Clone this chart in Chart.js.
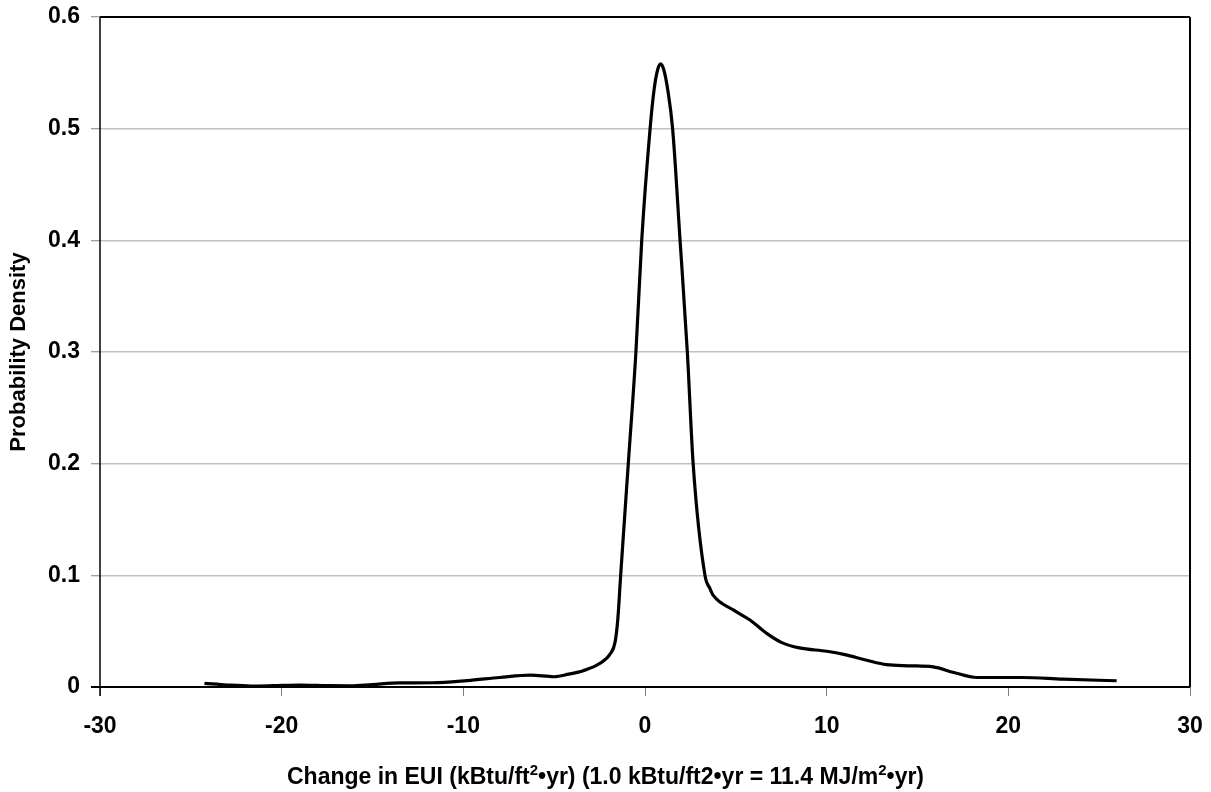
<!DOCTYPE html>
<html>
<head>
<meta charset="utf-8">
<script src="https://cdn.jsdelivr.net/npm/chart.js@4.4.0/dist/chart.umd.min.js"></script>
<style>
  html, body { margin: 0; padding: 0; background: #ffffff; }
  #wrap { width: 1211px; height: 792px; position: relative; }
</style>
</head>
<body>
<div id="wrap"><canvas id="c" width="1211" height="792"></canvas></div>
<script>
// ---- Data ----
const changeEUI = [-24.25, -23.0, -21.7, -20.5, -19.0, -17.5, -16.2, -15.0, -13.5, -11.7, -9.8, -8.0, -6.3, -5.0, -4.2, -3.4, -2.5, -1.9, -1.65, -1.5, -1.34, -0.92, -0.5, -0.18, 0.28, 0.50, 0.70, 0.86, 1.03, 1.25, 1.52, 1.93, 2.33, 2.65, 3.3, 3.58, 3.76, 4.86, 5.78, 6.7, 7.5, 8.5, 10.0, 11.0, 12.2, 13.3, 14.5, 15.86, 17.0, 18.26, 20.8, 23.0, 25.96];
const probDensity = [0.0033, 0.0018, 0.0009, 0.0012, 0.0018, 0.0012, 0.0010, 0.0022, 0.0037, 0.0038, 0.0057, 0.0085, 0.0106, 0.0092, 0.0115, 0.0146, 0.021, 0.030, 0.040, 0.060, 0.10, 0.20, 0.30, 0.40, 0.50, 0.535, 0.553, 0.558, 0.553, 0.535, 0.50, 0.40, 0.30, 0.20, 0.10, 0.088, 0.082, 0.069, 0.060, 0.048, 0.040, 0.035, 0.032, 0.029, 0.024, 0.020, 0.019, 0.018, 0.013, 0.0085, 0.0085, 0.007, 0.0056];
const xTickLabels = ['-30', '-20', '-10', '0', '10', '20', '30'];
const yTickLabels = ['0', '0.1', '0.2', '0.3', '0.4', '0.5', '0.6'];
const yTitle = 'Probability Density';
const xTitleParts = [
  ['Change in EUI (kBtu/ft', false], ['2', true], ['\u2022yr) (1.0 kBtu/ft2\u2022yr = 11.4 MJ/m', false], ['2', true], ['\u2022yr)', false]
];

const FONT = "'Liberation Sans', Arial, sans-serif";

const points = changeEUI.map((x, i) => ({ x: x, y: probDensity[i] }));

const framePlugin = {
  id: 'frame',
  afterDraw(chart) {
    const { ctx, chartArea: a } = chart;
    ctx.save();
    ctx.strokeStyle = '#000000';
    ctx.lineWidth = 2;
    ctx.beginPath();
    ctx.moveTo(a.left, a.top); ctx.lineTo(a.right, a.top);
    ctx.moveTo(a.right, a.top); ctx.lineTo(a.right, a.bottom);
    ctx.moveTo(a.left - 9, a.bottom); ctx.lineTo(a.right, a.bottom);
    ctx.stroke();
    ctx.lineWidth = 1.5;
    ctx.beginPath();
    ctx.moveTo(a.left, a.top); ctx.lineTo(a.left, a.bottom + 9);
    ctx.stroke();

    // y title
    ctx.fillStyle = '#000000';
    ctx.font = 'bold 22px ' + FONT;
    ctx.textAlign = 'center';
    ctx.textBaseline = 'middle';
    ctx.translate(19, (a.top + a.bottom) / 2);
    ctx.rotate(-Math.PI / 2);
    ctx.fillText(yTitle, 0, 0);
    ctx.restore();

    // x title with superscripts
    ctx.save();
    ctx.fillStyle = '#000000';
    ctx.textBaseline = 'alphabetic';
    ctx.textAlign = 'left';
    const size = 23, sup = 15;
    let total = 0;
    xTitleParts.forEach(([t, s]) => { ctx.font = 'bold ' + (s ? sup : size) + 'px ' + FONT; total += ctx.measureText(t).width; });
    let x = chart.width / 2 - total / 2;
    const base = 784;
    xTitleParts.forEach(([t, s]) => {
      ctx.font = 'bold ' + (s ? sup : size) + 'px ' + FONT;
      ctx.fillText(t, x, s ? base - 9 : base);
      x += ctx.measureText(t).width;
    });
    ctx.restore();
  }
};

new Chart(document.getElementById('c'), {
  type: 'line',
  data: {
    datasets: [{
      data: points,
      borderColor: '#000000',
      borderWidth: 3.2,
      pointRadius: 0,
      fill: false,
      cubicInterpolationMode: 'monotone'
    }]
  },
  options: {
    responsive: false,
    animation: false,
    events: [],
    layout: { autoPadding: false, padding: { top: 17, right: 21, left: 0, bottom: 0 } },
    plugins: { legend: { display: false }, tooltip: { enabled: false }, title: { display: false } },
    scales: {
      x: {
        type: 'linear', min: -30, max: 30,
        afterFit: s => { s.height = 105; s.paddingLeft = 0; s.paddingRight = 0; },
        afterBuildTicks: s => { s.ticks = xTickLabels.map(v => ({ value: Number(v) })); },
        ticks: {
          callback: (v, i) => xTickLabels[i],
          font: { family: FONT, size: 23, weight: 'bold' },
          color: '#000000', padding: 17, maxRotation: 0, autoSkip: false
        },
        grid: { drawOnChartArea: false, drawTicks: true, tickLength: 9, tickColor: '#808080', tickWidth: 1 },
        border: { display: false }
      },
      y: {
        type: 'linear', min: 0, max: 0.6,
        afterFit: s => { s.width = 100; s.paddingTop = 0; s.paddingBottom = 0; },
        afterBuildTicks: s => { s.ticks = yTickLabels.map(v => ({ value: Number(v) })); },
        ticks: {
          callback: (v, i) => yTickLabels[i],
          font: { family: FONT, size: 23, weight: 'bold' },
          color: '#000000', padding: 11, autoSkip: false
        },
        grid: { color: '#c0c0c0', lineWidth: 1.5, drawTicks: true, tickLength: 9, tickColor: '#808080', tickWidth: 1 },
        border: { display: false }
      }
    }
  },
  plugins: [framePlugin]
});
</script>
</body>
</html>
